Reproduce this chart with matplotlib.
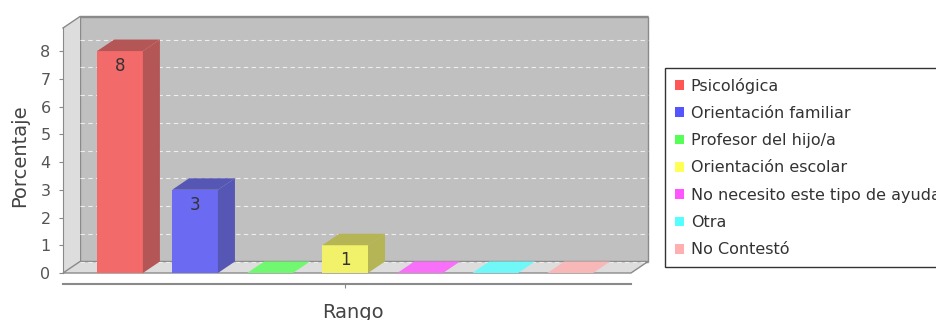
import matplotlib
matplotlib.use("Agg")
import matplotlib.pyplot as plt
from matplotlib.patches import Polygon, Patch
import numpy as np

# data
categories = [
    "Psicológica",
    "Orientación familiar",
    "Profesor del hijo/a",
    "Orientación escolar",
    "No necesito este tipo de ayuda",
    "Otra",
    "No Contestó",
]
values = [8, 3, 0, 1, 0, 0, 0]
base_colors = ["#ff5555", "#5555ff", "#55ff55", "#ffff55", "#ff55ff", "#55ffff", "#ffafaf"]
y_ticks = list(range(0, 9))

W, H = 936, 320
fig = plt.figure(figsize=(W / 100, H / 100), dpi=100)

# front plane of the plot in pixels
left_px, right_px, bottom_px, top_px = 63, 631, 273, 28
ax = fig.add_axes([left_px / W, 1 - bottom_px / H,
                   (right_px - left_px) / W, (bottom_px - top_px) / H])

x = np.arange(len(values))
xmin, xmax = -0.76, 6.81
ymin, ymax = 0, 8.83
ax.set_xlim(xmin, xmax)
ax.set_ylim(ymin, ymax)

# depth offset in data units
dx = 17 * (xmax - xmin) / (right_px - left_px)
dy = 11.5 * (ymax - ymin) / (bottom_px - top_px)

BG = "#c0c0c0"
WALL = "#dddddd"
EDGE = "#8a8a8a"


def blend(c, alpha=0.8, bg=BG, dark=1.0):
    c = np.array(matplotlib.colors.to_rgb(c)) * dark
    b = np.array(matplotlib.colors.to_rgb(bg))
    return tuple(alpha * c + (1 - alpha) * b)


# walls
ax.add_patch(Polygon([(xmin + dx, dy), (xmax + dx, dy), (xmax + dx, ymax + dy), (xmin + dx, ymax + dy)],
                     closed=True, facecolor=BG, edgecolor=EDGE, lw=1, clip_on=False, zorder=0))
ax.add_patch(Polygon([(xmin, 0), (xmin + dx, dy), (xmin + dx, ymax + dy), (xmin, ymax)],
                     closed=True, facecolor=WALL, edgecolor="none", clip_on=False, zorder=0))
ax.add_patch(Polygon([(xmin, 0), (xmax, 0), (xmax + dx, dy), (xmin + dx, dy)],
                     closed=True, facecolor=WALL, edgecolor=EDGE, lw=1, clip_on=False, zorder=0))
ax.plot([xmin, xmin + dx, xmax + dx], [ymax, ymax + dy, ymax + dy], color=EDGE, lw=1, clip_on=False, zorder=0.5)

# gridlines on back wall
for t in y_ticks:
    ax.plot([xmin + dx, xmax + dx], [t + dy, t + dy], color="#eeeeee", lw=0.8,
            ls=(0, (4, 3)), clip_on=False, zorder=0.6)

# bars
bw = 0.61
for xi, v, c in zip(x, values, base_colors):
    x0, x1 = xi - bw / 2, xi + bw / 2
    if v > 0:
        ax.bar(xi, v, width=bw, color=blend(c), zorder=2)
        ax.add_patch(Polygon([(x1, 0), (x1 + dx, dy), (x1 + dx, v + dy), (x1, v)],
                             closed=True, facecolor=blend(c, dark=0.7), edgecolor="none", zorder=2))
        ax.add_patch(Polygon([(x0, v), (x1, v), (x1 + dx, v + dy), (x0 + dx, v + dy)],
                             closed=True, facecolor=blend(c, dark=0.7), edgecolor="none", zorder=2))
        ax.text(xi, v - 0.54, str(v), ha="center", va="center", fontsize=12, color="#333333", zorder=3)
    else:
        ax.add_patch(Polygon([(x0, 0), (x1, 0), (x1 + dx, dy), (x0 + dx, dy)],
                             closed=True, facecolor=blend(c, bg=WALL), edgecolor="none", zorder=2))

# axes styling
for s in ["top", "right"]:
    ax.spines[s].set_visible(False)
ax.spines["left"].set_color(EDGE)
ax.spines["bottom"].set_color(EDGE)
ax.spines["bottom"].set_position(("outward", 8))
ax.spines["bottom"].set_linewidth(1.5)
ax.set_yticks(y_ticks)
ax.tick_params(axis="y", colors=EDGE, labelcolor="#555555", labelsize=11.5, length=3, pad=6)
ax.set_xticks([x.mean()])
ax.set_xticklabels([""])
ax.tick_params(axis="x", colors=EDGE, length=3)
ax.set_facecolor("none")
ax.set_ylabel("Porcentaje", fontsize=14, color="#444444")
ax.yaxis.set_label_coords((20 - left_px) / (right_px - left_px), 0.48)
ax.yaxis.label.set_va("center")
ax.set_xlabel("Rango", fontsize=14, color="#444444")
ax.xaxis.set_label_coords((353 - left_px) / (right_px - left_px), (bottom_px - 313) / (bottom_px - top_px))
ax.xaxis.label.set_va("center")

# legend
handles = [Patch(facecolor=c, edgecolor="none") for c in base_colors]
leg = fig.legend(handles, categories, loc="upper left", bbox_to_anchor=(665 / W, 1 - 68 / H),
                 borderaxespad=0, fontsize=11.5, frameon=True, fancybox=False,
                 handlelength=0.56, handleheight=0.56, handletextpad=0.45,
                 labelspacing=0.77, borderpad=0.6)
leg.get_frame().set_edgecolor("black")
leg.get_frame().set_linewidth(1)
for t in leg.get_texts():
    t.set_color("#333333")

fig.savefig("out.png", dpi=100)
